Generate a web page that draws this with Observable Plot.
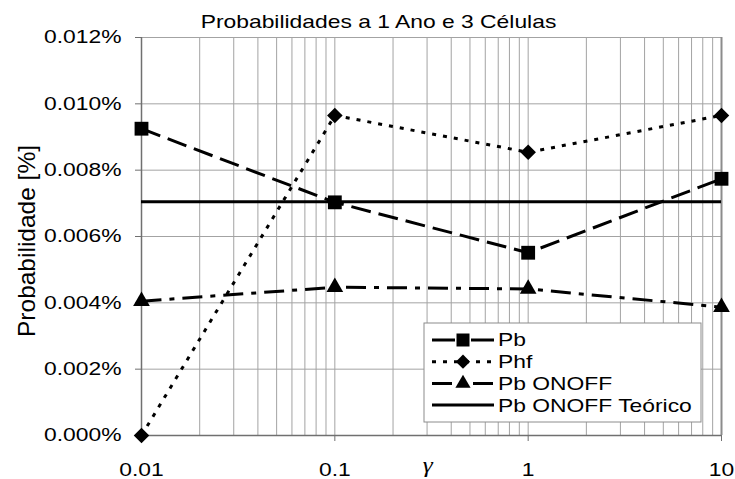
<!DOCTYPE html>
<html><head><meta charset="utf-8">
<script src="https://cdn.jsdelivr.net/npm/d3@7"></script>
<script src="https://cdn.jsdelivr.net/npm/@observablehq/plot@0.6"></script>
<style>
body{margin:0;background:#fff}
svg{font-family:"Liberation Sans",Arial,sans-serif}
</style>
</head><body><div id="chart"></div>
<script>
const chartTitle = "Probabilidades a 1 Ano e 3 Células";
const yLabel = "Probabilidade [%]";
const xLabel = "γ";
const gamma = [0.01, 0.1, 1, 10];
const pb = [0.00925, 0.00703, 0.00551, 0.00774];
const phf = [0.0, 0.00965, 0.00854, 0.00965];
const pbOnoff = [0.00405, 0.00447, 0.00442, 0.00387];
const pbOnoffTeorico = 0.00705;
const xTicks = [0.01, 0.1, 1, 10];
const yTicks = [0, 0.002, 0.004, 0.006, 0.008, 0.010, 0.012];
const seriesNames = ["Pb", "Phf", "Pb ONOFF", "Pb ONOFF Teórico"];

const rows = gamma.map((g, i) => ({gamma: g, pb: pb[i], phf: phf[i], onoff: pbOnoff[i]}));
const minorGrid = d3.scaleLog().domain([xTicks[0], xTicks[xTicks.length - 1]]).ticks();

const dashes = {pb: "20,8", phf: "4,7", onoff: "20,8,5,8"};
const gridColor = "#a3a3a3";
const axisColor = "#707070";

const chart = Plot.plot({
  width: 735, height: 479,
  marginLeft: 141, marginRight: 14, marginTop: 37, marginBottom: 44,
  x: {type: "log", domain: [0.01, 10]},
  y: {domain: [0, 0.012]},
  style: {fontFamily: "Liberation Sans, Arial, sans-serif", fontSize: "18px", background: "#fff", color: "#000", overflow: "visible"},
  marks: [
    Plot.gridX(minorGrid, {stroke: gridColor, strokeOpacity: 1}),
    Plot.gridY(yTicks, {stroke: gridColor, strokeOpacity: 1}),
    Plot.ruleX([10], {stroke: "#8c8c8c", strokeWidth: 2}),
    Plot.ruleX([0.01], {stroke: axisColor, strokeWidth: 1.5}),
    Plot.ruleY([0], {stroke: axisColor, strokeWidth: 1.5}),
    Plot.axisY(yTicks, {tickFormat: d => d.toFixed(3) + "%", tickSize: 6, tickPadding: 14, label: null, fontSize: 18, stroke: axisColor, fill: "#000"}),
    Plot.axisX(xTicks, {tickFormat: d => String(d), tickSize: 6, tickPadding: 22, label: null, fontSize: 18, stroke: axisColor, fill: "#000"}),
    Plot.ruleY([pbOnoffTeorico], {stroke: "#000", strokeWidth: 3}),
    Plot.line(rows, {x: "gamma", y: "pb", stroke: "#000", strokeWidth: 3, strokeDasharray: dashes.pb, strokeLinecap: "butt"}),
    Plot.line(rows, {x: "gamma", y: "phf", stroke: "#000", strokeWidth: 3, strokeDasharray: dashes.phf, strokeLinecap: "butt"}),
    Plot.line(rows, {x: "gamma", y: "onoff", stroke: "#000", strokeWidth: 3, strokeDasharray: dashes.onoff, strokeLinecap: "butt"}),
    Plot.dot(rows, {x: "gamma", y: "pb", symbol: "square", r: 7.8, fill: "#000", stroke: "none"}),
    Plot.dot(rows, {x: "gamma", y: "phf", symbol: "diamond2", r: 7, fill: "#000", stroke: "none"}),
    Plot.dot(rows, {x: "gamma", y: "onoff", symbol: "triangle", r: 6.2, fill: "#000", stroke: "none"})
  ]
});
document.getElementById("chart").appendChild(chart);

const svg = d3.select(chart);
const SX = 1.27;
// widen glyphs horizontally around each text's anchor point
function stretch(sel, f) {
  sel.each(function () {
    const b = this.getBBox();
    const anchor = getComputedStyle(this).textAnchor;
    const ax = anchor === "middle" ? b.x + b.width / 2 : anchor === "end" ? b.x + b.width : b.x;
    const prev = this.getAttribute("transform") || "";
    this.setAttribute("transform", `${prev} translate(${ax},0) scale(${f},1) translate(${-ax},0)`);
  });
}
stretch(svg.selectAll('g[aria-label$="tick label"] text'), SX);

// Title
const t = svg.append("text").attr("x", 378.5).attr("y", 28).attr("text-anchor", "middle")
  .attr("font-size", 18).attr("fill", "#000").text(chartTitle);
stretch(t, SX);

// Y label
svg.append("text").attr("transform", "translate(35,241) scale(1.27,1) rotate(-90)")
  .attr("text-anchor", "middle").attr("font-size", 19).attr("fill", "#000")
  .attr("textLength", 192).attr("lengthAdjust", "spacingAndGlyphs").text(yLabel);

// X label
const xl = svg.append("text").attr("x", 428).attr("y", 472).attr("text-anchor", "middle")
  .attr("font-family", "Liberation Serif, Times New Roman, serif").attr("font-style", "italic")
  .attr("font-size", 20).attr("fill", "#000").text(xLabel);
stretch(xl, SX);

// Legend
const lg = svg.append("g");
lg.append("rect").attr("x", 424).attr("y", 323).attr("width", 277).attr("height", 99)
  .attr("fill", "#fff").attr("stroke", "#8c8c8c").attr("stroke-width", 1);
const legendItems = [
  {name: seriesNames[0], dash: "23,16,23", sym: d3.symbolSquare, size: 169},
  {name: seriesNames[1], dash: "4,7", sym: d3.symbolDiamond2, size: 130},
  {name: seriesNames[2], dash: "20,8,5,8", sym: d3.symbolTriangle, size: 100},
  {name: seriesNames[3], dash: null, sym: null}
];
legendItems.forEach((it, i) => {
  const cy = 340 + i * 21.7;
  lg.append("line").attr("x1", 432).attr("x2", 494).attr("y1", cy).attr("y2", cy)
    .attr("stroke", "#000").attr("stroke-width", 3)
    .attr("stroke-dasharray", it.dash);
  if (it.sym) lg.append("path").attr("transform", `translate(463,${cy})`)
    .attr("d", d3.symbol(it.sym, it.size)()).attr("fill", "#000");
  const tx = lg.append("text").attr("x", 498).attr("y", cy + 6.5).attr("font-size", 18)
    .attr("text-anchor", "start").attr("fill", "#000").text(it.name);
  stretch(tx, SX);
});
</script>
</body></html>
